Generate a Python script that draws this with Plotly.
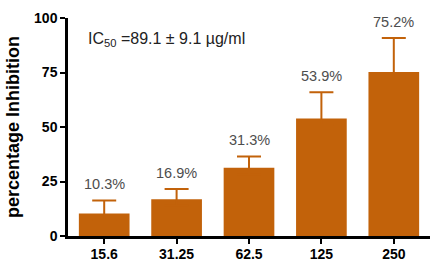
import plotly.graph_objects as go

categories = ["15.6", "31.25", "62.5", "125", "250"]
values = [10.3, 16.9, 31.3, 53.9, 75.2]
errors = [6.0, 4.7, 5.2, 12.0, 15.6]
labels = ["10.3%", "16.9%", "31.3%", "53.9%", "75.2%"]
y_ticks = [0, 25, 50, 75, 100]

bar_color = "#C2620A"
font_family = "Liberation Sans, Arial, sans-serif"

fig = go.Figure()
fig.add_trace(go.Bar(
    x=categories, y=values,
    marker=dict(color=bar_color, line=dict(width=0)),
    width=0.70,
    error_y=dict(type="data", symmetric=False, array=errors,
                 arrayminus=[min(3, v) for v in values],  # lower end hidden inside the bar
                 color=bar_color, thickness=2, width=12),
))

for i, (v, e, t) in enumerate(zip(values, errors, labels)):
    fig.add_annotation(x=i, y=v + e, xref="x", yref="y", text=t, showarrow=False,
                       yanchor="bottom", yshift=6,
                       font=dict(family=font_family, size=14.5, color="#4d4d4d"))

fig.add_annotation(xref="paper", yref="y", x=0.05, y=90, xanchor="left", yanchor="middle",
                   text="IC<sub>50</sub> =89.1 ± 9.1 µg/ml", showarrow=False,
                   font=dict(family=font_family, size=16, color="#222222"))

fig.update_layout(
    width=434, height=261,
    margin=dict(l=68, r=4, t=18, b=25, autoexpand=False),
    paper_bgcolor="white", plot_bgcolor="white",
    showlegend=False,
    font=dict(family=font_family, color="black"),
)
fig.update_xaxes(
    type="category", range=[-0.5, 4.5], automargin=False,
    showline=True, linecolor="black", linewidth=2.5,
    ticks="outside", ticklen=5, tickwidth=2, tickcolor="black",
    tickfont=dict(size=14, color="black", family=font_family),
    tickprefix="<b>", ticksuffix="</b>",
    ticklabelstandoff=-2,
    showgrid=False, zeroline=False,
)
fig.update_yaxes(
    range=[0, 100], tickvals=y_ticks, automargin=False,
    ticktext=[f"<b>{v}</b>" for v in y_ticks],
    showline=True, linecolor="black", linewidth=2.5,
    ticks="outside", ticklen=5, tickwidth=2, tickcolor="black",
    tickfont=dict(size=14, color="black", family=font_family),
    title=dict(text="<b>percentage Inhibition</b>", font=dict(size=18, color="black"), standoff=10),
    showgrid=False, zeroline=False,
)

fig.write_html("out.html",
               config={"displayModeBar": False},
               post_script="document.body.style.margin='0';document.body.style.padding='0';document.body.style.overflow='hidden';")
